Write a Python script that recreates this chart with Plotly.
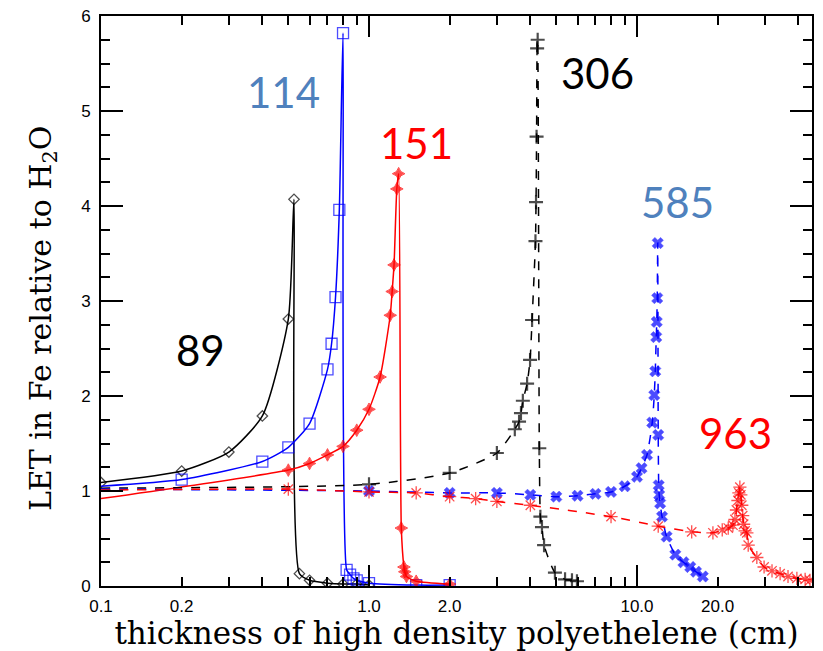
import plotly.graph_objects as go

# ---------------- data ----------------
x89 = [0.1, 0.2, 0.3, 0.4, 0.5, 0.525, 0.55, 0.6, 0.7, 0.8, 0.9, 1.0]
y89 = [1.09, 1.21, 1.41, 1.79, 2.81, 4.07, 0.13, 0.06, 0.03, 0.02, 0.02, 0.01]

x114 = [0.1, 0.2, 0.4, 0.5, 0.6, 0.7, 0.725, 0.75, 0.775, 0.8, 0.825, 0.85, 0.875, 0.9, 1.0, 1.5, 2.0]
y114 = [1.05, 1.12, 1.31, 1.46, 1.71, 2.28, 2.55, 3.04, 3.96, 5.82, 0.17, 0.12, 0.08, 0.06, 0.03, 0.01, 0.01]

x151 = [0.1, 0.5, 0.6, 0.7, 0.8, 0.9, 1.0, 1.1, 1.2, 1.22, 1.24, 1.27, 1.29, 1.32, 1.35, 1.36, 1.38, 1.5, 2.0]
y151 = [0.92, 1.22, 1.29, 1.38, 1.47, 1.64, 1.86, 2.2, 2.85, 3.1, 3.38, 4.18, 4.34, 0.61, 0.2, 0.15, 0.1, 0.05, 0.02]

x306 = [0.1, 1.0, 2.0, 3.0, 3.5, 3.63, 3.69, 3.75, 3.89, 3.99, 4.06, 4.18, 4.2, 4.22, 4.24, 4.26,
        4.32, 4.36, 4.42, 4.5, 4.94, 5.39, 5.72, 5.97]
y306 = [1.03, 1.07, 1.19, 1.40, 1.65, 1.73, 1.82, 1.95, 2.13, 2.38, 2.80, 3.63, 4.04, 4.73, 5.66, 5.75,
        1.45, 0.73, 0.62, 0.43, 0.14, 0.07, 0.06, 0.05]

x585 = [0.1, 1.0, 2.0, 3.0, 4.0, 5.0, 6.0, 7.0, 8.0, 9.0, 10.0, 10.4, 10.9, 11.4, 11.6, 11.7, 11.8, 11.85,
        11.9, 11.95, 12.0, 12.05, 12.1, 12.2, 12.4, 12.9, 13.9, 14.9, 15.8, 16.6, 17.6]
y585 = [1.02, 1.0, 0.98, 0.98, 0.96, 0.94, 0.95, 0.97, 0.99, 1.05, 1.15, 1.24, 1.38, 1.72, 2.01, 2.26, 2.62, 2.78,
        3.03, 3.61, 1.59, 1.06, 0.96, 0.87, 0.73, 0.52, 0.33, 0.25, 0.2, 0.15, 0.1]

x963 = [0.1, 0.5, 1.0, 1.5, 2.0, 2.5, 3.0, 4.0, 8.0, 12.0, 16.0, 19.2, 20.8, 21.9, 22.8, 23.2, 23.5, 23.8,
        24.0, 24.2, 24.4, 24.6, 24.8, 25.0, 25.3, 25.7, 26.0, 28.0, 29.8, 31.9, 34.2, 36.6, 39.5, 42.4, 44.2]
y963 = [1.01, 1.02, 0.99, 0.98, 0.94, 0.92, 0.89, 0.85, 0.73, 0.63, 0.57, 0.56, 0.59, 0.61, 0.64, 0.70, 0.80, 0.90,
        0.98, 1.04, 0.96, 0.85, 0.74, 0.65, 0.58, 0.56, 0.43, 0.30, 0.20, 0.16, 0.13, 0.10, 0.08, 0.07, 0.06]

x_tick_vals = [0.1, 0.2, 1.0, 2.0, 10.0, 20.0]
x_tick_text = ["0.1", "0.2", "1.0", "2.0", "10.0", "20.0"]
x_long_ticks = [1.0, 10.0]
x_minor_ticks = [0.3, 0.4, 0.5, 0.6, 0.7, 0.8, 0.9, 3, 4, 5, 6, 7, 8, 9, 30, 40]
y_tick_vals = [0, 1, 2, 3, 4, 5, 6]

labels = ["89", "114", "151", "306", "585", "963"]
x_title = "thickness of high density polyethelene (cm)"
y_title = "LET in Fe relative to H<sub>2</sub>O"

# ---------------- figure ----------------
BLUE = "#0000FF"
RED = "#FF0000"
BLACK = "#000000"

def sizes(n, s, first_marker=True):
    return [s if (i > 0 or first_marker) else 0 for i in range(n)]

fig = go.Figure()

series = [
    (x89, y89, BLACK, "solid", "diamond-open", 8, True, 1.3),
    (x114, y114, BLUE, "solid", "square-open", 11, False, 1.3),
    (x151, y151, RED, "solid", "star-diamond", 9, False, 1.0),
    (x306, y306, BLACK, "dash", "cross-thin-open", 10, False, 2.2),
    (x585, y585, BLUE, "dash", "x", 10, False, 0.5),
    (x963, y963, RED, "dash", "asterisk-open", 11, False, 1.3),
]
for xs, ys, col, dash, sym, ms, firstm, mlw in series:
    fig.add_trace(go.Scatter(
        x=xs, y=ys, mode="lines+markers",
        line=dict(color=col, width=1.5, dash=dash, shape="spline", smoothing=0.6),
        marker=dict(symbol=sym, size=sizes(len(xs), ms, firstm), color=col,
                    line=dict(color=col, width=mlw)),
        showlegend=False, cliponaxis=True,
    ))

# empty trace to anchor the overlay axis carrying the long decade ticks
fig.add_trace(go.Scatter(x=[None], y=[None], xaxis="x2", showlegend=False, hoverinfo="skip"))

xr = [-1, 1.653]
axis_font = dict(family="Liberation Sans", size=17, color="black")
fig.update_layout(
    width=823, height=651,
    margin=dict(l=101, r=11, t=16, b=65),
    paper_bgcolor="white", plot_bgcolor="white",
    xaxis=dict(
        type="log", range=xr, showgrid=False, zeroline=False,
        showline=True, linecolor="black", linewidth=2, mirror="ticks",
        ticks="inside", ticklen=9, tickwidth=1.5, tickcolor="black",
        tickmode="array", tickvals=x_tick_vals, ticktext=x_tick_text,
        tickfont=axis_font, ticklabelstandoff=4,
        minor=dict(tickmode="array", tickvals=x_minor_ticks, ticks="inside",
                   ticklen=9, tickwidth=1.5, tickcolor="black", showgrid=False),
        title=dict(text=x_title,
                   font=dict(family="DejaVu Serif", size=31, color="black"), standoff=6),
        automargin=False,
    ),
    xaxis2=dict(
        type="log", range=xr, overlaying="x", anchor="y", side="bottom",
        showgrid=False, zeroline=False, showline=False, mirror="ticks",
        ticks="inside", ticklen=21, tickwidth=1.5, tickcolor="black",
        tickmode="array", tickvals=x_long_ticks, showticklabels=False,
        automargin=False,
    ),
    yaxis=dict(
        range=[0, 6], showgrid=False, zeroline=False,
        showline=True, linecolor="black", linewidth=2, mirror="ticks",
        ticks="inside", ticklen=22, tickwidth=1.5, tickcolor="black",
        tickmode="array", tickvals=y_tick_vals, tickfont=axis_font, ticklabelstandoff=5,
        minor=dict(dtick=0.25, ticks="inside", ticklen=9, tickwidth=1.5,
                   tickcolor="black", showgrid=False),
        automargin=False,
    ),
)

# y-axis title (placed as rotated text to match the reference's vertical offset)
fig.add_annotation(x=-0.083, y=0.47, xref="paper", yref="paper", text=y_title, showarrow=False,
                   textangle=-90, xanchor="center", yanchor="middle",
                   font=dict(family="DejaVu Serif", size=30, color="black"))

ann_pos = [(0.1406, 0.414, BLACK), (0.256, 0.867, "#4F81BD"), (0.444, 0.777, RED),
           (0.698, 0.900, BLACK), (0.8115, 0.674, "#4F81BD"), (0.893, 0.268, RED)]
for lab, (ax, ay, col) in zip(labels, ann_pos):
    fig.add_annotation(x=ax, y=ay, xref="paper", yref="paper", text=lab, showarrow=False,
                       font=dict(family="Lato", size=42, color=col), xanchor="center", yanchor="middle")

fig.write_html("out.html")
